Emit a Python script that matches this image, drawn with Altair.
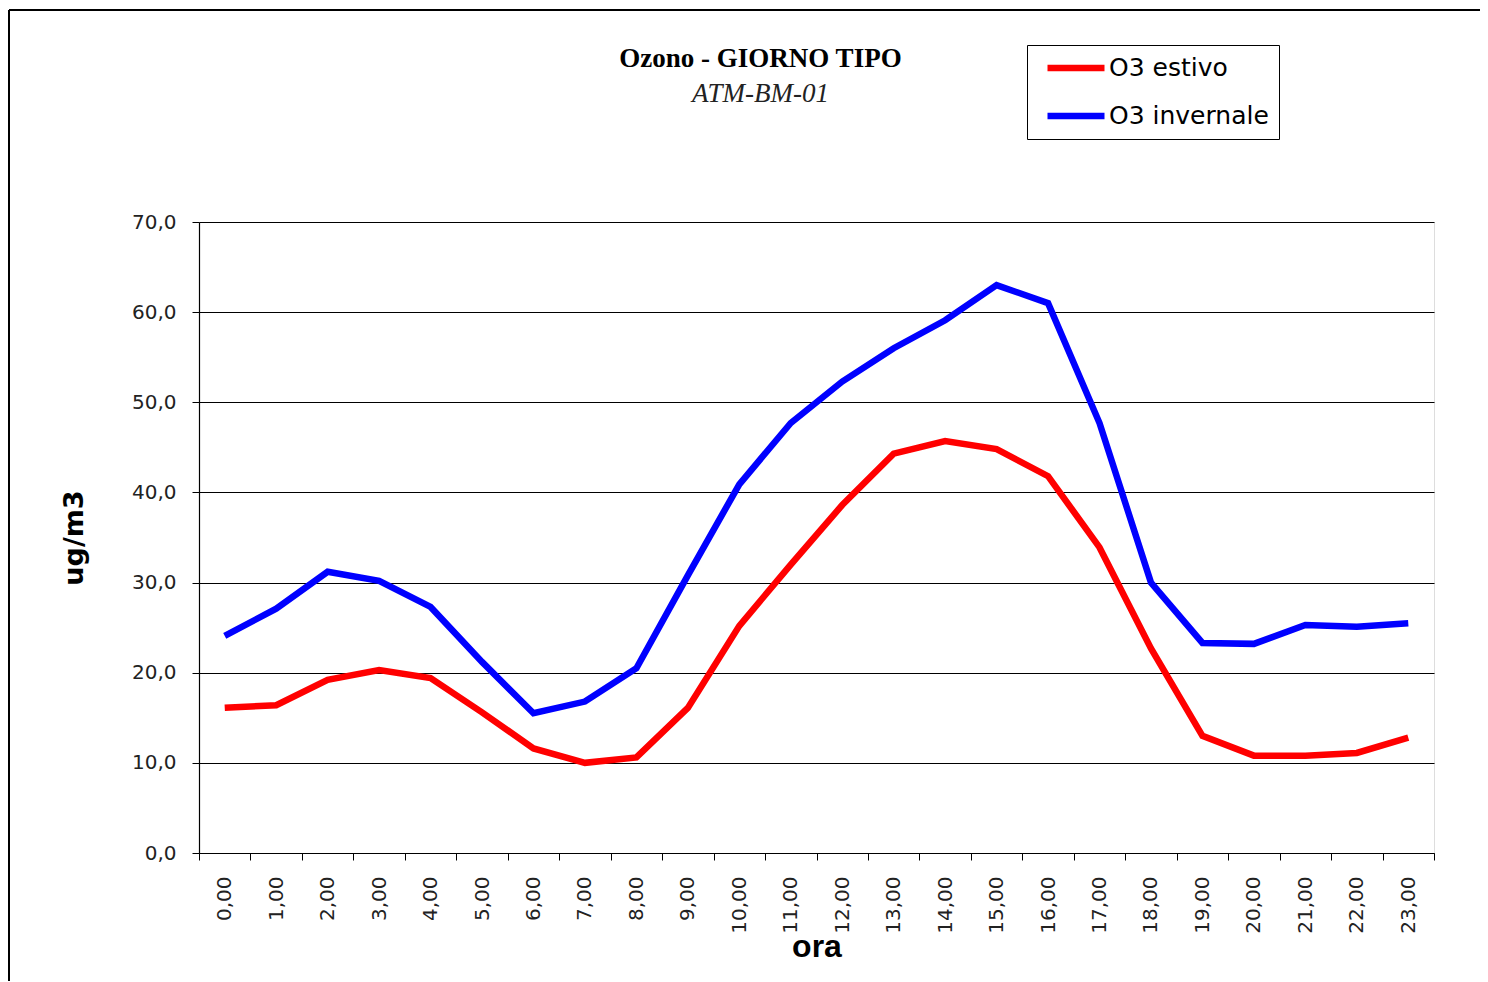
import altair as alt
import pandas as pd

hours = ["0,00", "1,00", "2,00", "3,00", "4,00", "5,00", "6,00", "7,00", "8,00", "9,00",
         "10,00", "11,00", "12,00", "13,00", "14,00", "15,00", "16,00", "17,00", "18,00",
         "19,00", "20,00", "21,00", "22,00", "23,00"]
o3_estivo = [16.1, 16.4, 19.2, 20.3, 19.4, 15.6, 11.6, 10.0, 10.6, 16.1, 25.2, 32.0,
             38.6, 44.3, 45.7, 44.8, 41.8, 33.9, 22.7, 13.0, 10.8, 10.8, 11.1, 12.8]
o3_invernale = [24.1, 27.1, 31.2, 30.2, 27.3, 21.2, 15.5, 16.8, 20.5, 30.8, 40.9, 47.7,
                52.3, 56.0, 59.1, 63.0, 61.0, 47.7, 30.0, 23.3, 23.2, 25.3, 25.1, 25.5]
series_names = ["O3 estivo", "O3 invernale"]
series_colors = ["#FF0000", "#0000FF"]

rows = []
for name, vals in zip(series_names, [o3_estivo, o3_invernale]):
    for h, v in zip(hours, vals):
        rows.append({"ora": h, "valore": v, "serie": name})
df = pd.DataFrame(rows)

W, H = 1235, 631
SANS = "DejaVu Sans"

lines = alt.Chart(df).mark_line(strokeWidth=6.5, strokeJoin="miter").encode(
    x=alt.X("ora:O", sort=hours,
            scale=alt.Scale(type="band", paddingInner=0, paddingOuter=0),
            axis=alt.Axis(title="ora", labelAngle=-90, labelFont=SANS,
                          labelFontSize=20, labelColor="#222", labelPadding=16,
                          tickBand="extent", tickSize=7, tickColor="#000",
                          domainColor="#000", domainWidth=1.2,
                          titleFont="Liberation Sans Narrow, Liberation Sans",
                          titleFontSize=32, titleFontWeight="bold", titleColor="#000",
                          titleY=93, titleBaseline="middle", grid=False)),
    y=alt.Y("valore:Q",
            scale=alt.Scale(domain=[0, 70], nice=False),
            axis=alt.Axis(title="ug/m3", values=[0, 10, 20, 30, 40, 50, 60, 70],
                          labelExpr="replace(format(datum.value, '.1f'), '.', ',')",
                          labelFont=SANS, labelFontSize=20,
                          labelColor="#222", labelPadding=16,
                          tickSize=7, tickColor="#000", domainColor="#000",
                          domainWidth=1.2, grid=True, gridColor="#000",
                          gridWidth=1.2, titleFont=SANS,
                          titleFontSize=27, titleFontWeight="bold",
                          titleColor="#000", titlePadding=43)),
    color=alt.Color("serie:N",
                    scale=alt.Scale(domain=series_names, range=series_colors),
                    legend=alt.Legend(title=None, orient="none", legendX=828,
                                      legendY=-177, direction="vertical",
                                      symbolType="M-3,0L3,0", symbolStrokeWidth=6.5,
                                      symbolSize=361, symbolOffset=26,
                                      labelFont=SANS, labelFontSize=25,
                                      labelColor="#000", labelOffset=20,
                                      rowPadding=22, strokeColor="#000",
                                      fillColor="#fff", padding=10, offset=0)),
)

frame = alt.Chart(alt.Data(values=[{}])).mark_rule(color="#000", strokeWidth=2).encode(
    x=alt.value(-190), y=alt.value(-212), y2=alt.value(900)
)
frame_top = alt.Chart(alt.Data(values=[{}])).mark_rule(color="#000", strokeWidth=2).encode(
    x=alt.value(-190), x2=alt.value(1400), y=alt.value(-212)
)

chart = alt.layer(frame, frame_top, lines).properties(
    width=W, height=H,
    title=alt.TitleParams(
        text="Ozono - GIORNO TIPO",
        subtitle="ATM-BM-01",
        font="Liberation Serif", fontSize=27, fontWeight="bold", color="#000",
        subtitleFont="Liberation Serif", subtitleFontSize=27,
        subtitleFontStyle="italic", subtitleColor="#222", subtitlePadding=8,
        anchor="middle", frame="group", dx=-56, dy=103
    ),
    autosize=alt.AutoSizeParams(type="none"),
    padding={"left": 191, "top": 214, "right": 46, "bottom": 128},
).configure_view(stroke="#999", strokeWidth=1.2).configure(background="#fff")

chart.save("out.html", embed_options={"renderer": "svg", "actions": False})
